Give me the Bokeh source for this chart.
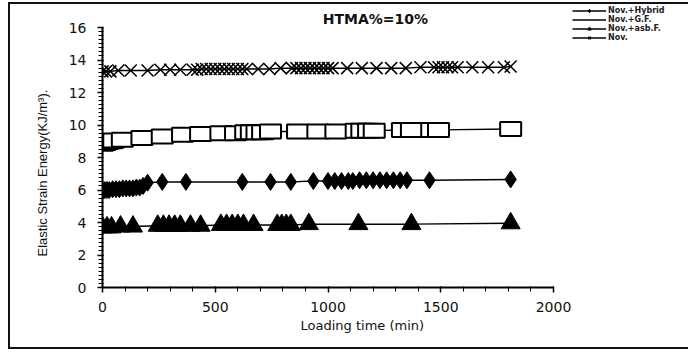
from bokeh.plotting import figure
from bokeh.models import ColumnDataSource, Legend, LegendItem, Title, FixedTicker, Label
from bokeh.embed import file_html
from bokeh.resources import INLINE

# ---------------- data ----------------
hyb_t = [0, 10, 20, 30, 45, 60, 75, 90, 105, 120, 135, 150, 165, 180, 200, 265, 370,
         620, 745, 835, 935, 1000, 1030, 1060, 1090, 1110, 1140, 1170, 1200, 1230,
         1260, 1290, 1320, 1350, 1450, 1810]
hyb_v = [5.95, 6.0, 6.0, 6.0, 6.05, 6.05, 6.05, 6.1, 6.1, 6.1, 6.1, 6.15, 6.15, 6.25, 6.45,
         6.5, 6.5, 6.5, 6.5, 6.5, 6.55, 6.55, 6.55, 6.55, 6.55, 6.55, 6.6, 6.6, 6.6, 6.6,
         6.6, 6.6, 6.6, 6.6, 6.6, 6.65]

gf_t = [0, 10, 20, 30, 40, 50, 88, 175, 265, 355, 435, 525, 590, 635, 660, 685, 710, 745,
        865, 955, 1035, 1125, 1150, 1180, 1205, 1330, 1370, 1460, 1490, 1810]
gf_v = [8.85, 8.9, 8.95, 9.0, 9.0, 9.05, 9.1, 9.2, 9.3, 9.4, 9.45, 9.5, 9.5, 9.55, 9.55,
        9.55, 9.55, 9.6, 9.6, 9.6, 9.6, 9.65, 9.65, 9.65, 9.65, 9.7, 9.7, 9.7, 9.7, 9.75]

asb_t = [0, 20, 40, 80, 135, 245, 270, 295, 320, 345, 390, 435, 525, 550, 575, 600, 625,
         670, 775, 795, 815, 835, 915, 1135, 1370, 1810]
asb_v = [3.7, 3.7, 3.7, 3.75, 3.75, 3.8, 3.8, 3.8, 3.8, 3.8, 3.8, 3.8, 3.85, 3.85, 3.85,
         3.85, 3.85, 3.85, 3.85, 3.85, 3.85, 3.85, 3.9, 3.9, 3.9, 3.95]

nov_t = [0, 15, 35, 70, 125, 200, 257, 300, 345, 400, 420, 440, 460, 480, 500, 520, 540,
         560, 580, 600, 620, 640, 690, 740, 790, 840, 860, 880, 900, 920, 940, 960, 980,
         1000, 1020, 1085, 1150, 1215, 1280, 1345, 1410, 1470, 1490, 1510, 1530, 1550,
         1575, 1640, 1710, 1780, 1810]
nov_v = [13.3, 13.3, 13.3, 13.35, 13.35, 13.35, 13.4, 13.4, 13.4, 13.4, 13.4, 13.45, 13.45,
         13.45, 13.45, 13.45, 13.45, 13.45, 13.45, 13.45, 13.45, 13.45, 13.45, 13.45, 13.5,
         13.5, 13.5, 13.5, 13.5, 13.5, 13.5, 13.5, 13.5, 13.5, 13.5, 13.5, 13.5, 13.5,
         13.5, 13.5, 13.55, 13.55, 13.55, 13.55, 13.55, 13.55, 13.55, 13.55, 13.55, 13.55,
         13.6]

series_labels = ["Nov.+Hybrid", "Nov.+G.F.", "Nov.+asb.F.", "Nov."]
x_ticks = [0, 500, 1000, 1500, 2000]
y_ticks = [0, 2, 4, 6, 8, 10, 12, 14, 16]
title_text = "HTMA%=10%"
x_title = "Loading time (min)"
y_title = "Elastic Strain Energy(KJ/m\u00b3)."

# the box's right edge lies beyond the window, as in the reference
W = 690
X_END = 2000 * (W + 10 - 102) / 451
Y_END = 16 * 283 / 260

# ---------------- figure ----------------
p = figure(width=W, height=347, output_backend="svg", toolbar_location=None,
           x_range=(0, X_END), y_range=(0, Y_END),
           min_border_left=92, min_border_right=0, min_border_top=0, min_border_bottom=64,
           styles={"margin-left": "8px", "margin-top": "2px",
                   "border-left": "2px solid #111", "border-top": "2px solid #111",
                   "border-bottom": "2px solid #111"})
p.outline_line_color = None
p.xgrid.visible = False
p.ygrid.visible = False
p.background_fill_color = "white"
p.border_fill_color = "white"

FONT = "DejaVu Sans"
for ax in (p.xaxis[0], p.yaxis[0]):
    ax.axis_line_width = 2
    ax.axis_line_color = "black"
    ax.major_tick_line_color = "black"
    ax.minor_tick_line_color = "black"
    ax.major_tick_line_width = 1.5
    ax.minor_tick_line_width = 1
    ax.major_tick_out = 5
    ax.major_tick_in = 1
    ax.minor_tick_out = 4
    ax.minor_tick_in = 1
    ax.major_label_text_font = FONT
    ax.major_label_text_font_size = "14px"
    ax.major_label_text_color = "#111"

p.xaxis[0].bounds = (0, 2000)
p.yaxis[0].bounds = (0, 16)
p.xaxis[0].ticker = FixedTicker(ticks=x_ticks, minor_ticks=list(range(0, 2001, 100)))
p.yaxis[0].ticker = FixedTicker(ticks=y_ticks, minor_ticks=[i * 0.25 for i in range(0, 65)])
p.xaxis[0].major_label_standoff = 9
p.yaxis[0].major_label_standoff = 11

# ---------------- series ----------------
src_h = ColumnDataSource(dict(t=hyb_t, v=hyb_v))
src_g = ColumnDataSource(dict(t=gf_t, v=gf_v))
src_a = ColumnDataSource(dict(t=asb_t, v=asb_v))
src_n = ColumnDataSource(dict(t=nov_t, v=nov_v))

l_h = p.line("t", "v", source=src_h, line_color="black", line_width=1.5)
l_g = p.line("t", "v", source=src_g, line_color="black", line_width=1.5)
l_a = p.line("t", "v", source=src_a, line_color="black", line_width=1.5)
l_n = p.line("t", "v", source=src_n, line_color="black", line_width=1.5)

m_n = p.scatter("t", "v", source=src_n, marker="x", size=17, line_color="black", line_width=1.5)
m_h = p.scatter("t", "v", source=src_h, marker="diamond", size=17, fill_color="black",
                line_color="black")
p.rect("t", "v", source=src_g, width=21, height=14, width_units="screen", height_units="screen",
       fill_color="white", line_color="black", line_width=2)
m_a = p.scatter("t", "v", source=src_a, marker="triangle", size=19, fill_color="black",
                line_color="black")

# legend-only marker for the square series
leg_sq = p.scatter(x=[], y=[], marker="square", fill_color="white", line_color="black",
                   line_width=2)

legend = Legend(items=[
    LegendItem(label=series_labels[0], renderers=[l_h, m_h]),
    LegendItem(label=series_labels[1], renderers=[l_g, leg_sq]),
    LegendItem(label=series_labels[2], renderers=[l_a, m_a]),
    LegendItem(label=series_labels[3], renderers=[l_n, m_n]),
], location=(470, 245), orientation="vertical",
    glyph_width=34, glyph_height=9, label_height=9, spacing=0,
    padding=0, margin=0, label_standoff=2,
    label_text_font=FONT, label_text_font_size="8px", label_text_font_style="bold",
    label_text_color="#222",
    background_fill_alpha=0, border_line_color=None)
p.add_layout(legend)

# ---------------- titles ----------------
p.add_layout(Label(x=1210, y=16.55, text=title_text, text_align="center",
                   text_baseline="middle", text_font=FONT, text_font_size="14px",
                   text_font_style="bold", text_color="#111"))
p.add_layout(Title(text=x_title, align="left", offset=198, standoff=3,
                   text_font=FONT, text_font_size="13px", text_font_style="normal",
                   text_color="#111"), "below")
p.add_layout(Title(text=y_title, align="left", offset=31, standoff=31,
                   text_font="Liberation Sans", text_font_size="13px",
                   text_font_style="normal", text_color="#111"), "left")

html = file_html(p, INLINE)
css = ("<style>html, body { overflow: hidden; margin: 0; padding: 0; "
       "scrollbar-width: none; } ::-webkit-scrollbar { display: none; width: 0; height: 0; }"
       "</style>")
html = html.replace("<head>", "<head>" + css, 1)
open("out.html", "w").write(html)
